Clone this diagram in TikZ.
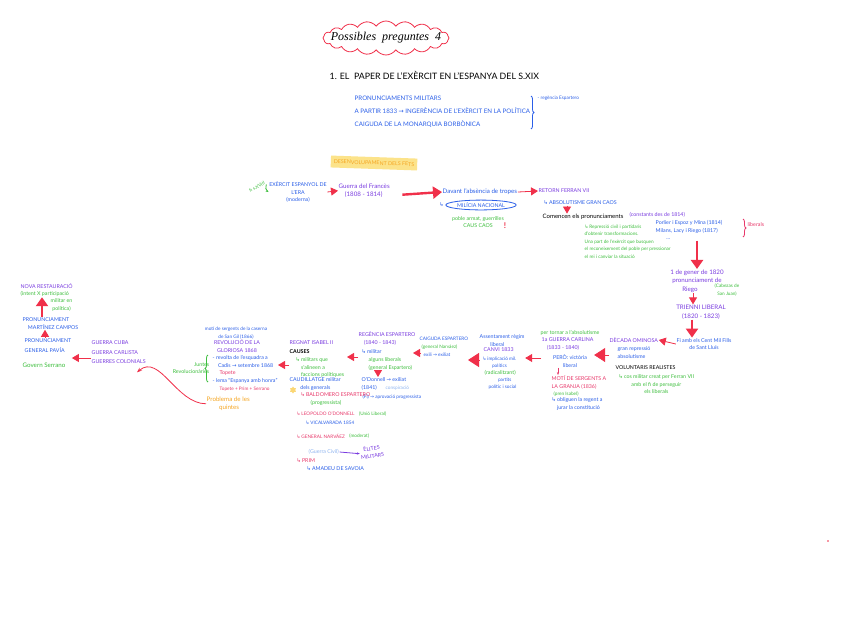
\documentclass[tikz,border=0pt]{standalone}
\usepackage{fontspec}
\setmainfont{Lato}
\newfontfamily\symfont{DejaVu Sans}
\newfontfamily\titlefont{Liberation Serif}
\usepackage{tikz}
\usetikzlibrary{calc,arrows.meta,decorations.pathreplacing,positioning,shapes.geometric,shapes.symbols}
\definecolor{NoteRed}{HTML}{F0304A}
\definecolor{NotePurple}{HTML}{7A3CE0}
\definecolor{NoteBlue}{HTML}{2B5FE8}
\definecolor{NoteGreen}{HTML}{3DBE3D}
\definecolor{NotePink}{HTML}{E8386A}
\definecolor{NoteOrange}{HTML}{F5A623}
\definecolor{NoteSky}{HTML}{8EB4F0}
\definecolor{NoteYellow}{HTML}{FCE38A}
\newcommand{\ret}{{\symfont ↳}\,}
\newcommand{\fl}{{\symfont →}}

\begin{document}
\begin{tikzpicture}[x=1pt,y=-1pt,
  every node/.style={inner sep=0.5pt, align=left, font=\fontsize{5.3}{7.5}\selectfont},
  pur/.style={text=NotePurple}, blu/.style={text=NoteBlue}, grn/.style={text=NoteGreen},
  pnk/.style={text=NotePink}, org/.style={text=NoteOrange}, sky/.style={text=NoteSky},
  big/.style={font=\fontsize{6.2}{8.5}\selectfont},
  sml/.style={font=\fontsize{4.7}{7.5}\selectfont},
  arr/.style={draw=NoteRed, line width=2.4pt, -{Triangle[length=9pt,width=12pt]}},
  tri/.style={draw=NoteRed, line width=0.8pt, -{Triangle[length=7pt,width=8pt]}},
  bigtri/.style={draw=NoteRed, line width=0.8pt, -{Triangle[length=11pt,width=14pt]}}]
  \useasboundingbox[fill=white] (0,0) rectangle (848,641);

  % titol
  \node[cloud, draw=NoteRed, thick, cloud puffs=20, cloud puff arc=110, aspect=4,
    minimum width=126pt, minimum height=34pt] (cloud) at (386,38) {};
  \node[font=\fontsize{12}{12}\titlefont\itshape] (title) at (cloud.center) {Possibles \ preguntes \ 4};
  \node[anchor=west, font=\fontsize{8.8}{10}\selectfont] (head) at (329,75)
    {1. EL \ PAPER DE L'EXÈRCIT EN L'ESPANYA DEL S.XIX};
  \node[blu, anchor=north west, font=\fontsize{6.2}{13}\selectfont] (intro) at (354,95)
    {PRONUNCIAMENTS MILITARS\\A PARTIR 1833 \fl\ INGERÈNCIA DE L'EXÈRCIT EN LA POLÍTICA\\CAIGUDA DE LA MONARQUIA BORBÒNICA};
  \draw[NoteBlue, thick, decorate, decoration={brace, amplitude=3pt}]
    (531,96) -- (531,129);
  \node[blu, sml, anchor=west] (regencia) at (537,98) {- regència Espartero};

  % desenvolupament
  \node[org, fill=NoteYellow, rotate=-2, inner xsep=3pt, inner ysep=4pt] (fets) at (374,163) {DESENVOLUPAMENT DELS FETS};
  \node[grn, sml, rotate=30] (segle) at (257,187) {fi s.XVIII};
  \node[blu, align=center] (exer) at (298,192) {EXÈRCIT ESPANYOL DE\\L'ERA\\(moderna)};
  \draw[NoteGreen, thick, -{Stealth[length=3pt]}] (segle.south east) to[bend right=40] (exer.west);
  \node[pur, big, anchor=north west] (frances) at (338,183) {Guerra del Francès\\\quad(1808 - 1814)};
  \draw[tri] (exer.east) -- (frances.west);
  \node[blu, big, anchor=west] (absencia) at (442,192) {Davant l'absència de tropes};
  \node[blu, draw=NoteBlue, thick, ellipse, inner sep=1pt] (milicia) at (481,205) {MILÍCIA NACIONAL};
  \node[blu, anchor=east] (ret1) at (milicia.west) {\ret};
  \node[grn, align=center] (poble) at (478,222) {poble armat, guerrilles\\CAUS CAOS};
  \node[text=NoteRed, font=\fontsize{8}{8}\bfseries] (excl) at (505,226) {!};
  \draw[arr] ($(frances.east)+(12,4)$) -- (absencia.west);
  \node[pur, anchor=west] (retorn) at (538,191) {RETORN FERRAN VII};
  \draw[tri] (absencia.east) -- (retorn.west);
  \node[blu, anchor=west] (absol) at (543,203) {\ret ABSOLUTISME GRAN CAOS};
  \node[anchor=west, font=\fontsize{6}{7}\selectfont] (comencen) at (542,217) {Comencen els pronunciaments};
  \draw[tri] (absol.south -| 567,0) -- (comencen.north -| 567,0);
  \node[pur, anchor=west] (constants) at (629,215) {(constants des de 1814)};
  \node[blu, anchor=north west] (noms) at (655,220) {Porlier i Espoz y Mina (1814)\\Milans, Lacy i Riego (1817)\\\qquad ...};
  \node[pnk, anchor=west] (liberals) at (747,225) {liberals};
  \draw[NotePink, thick, decorate, decoration={brace, amplitude=3pt}]
    ($(liberals.west)+(-4,-6)$) -- ($(liberals.west)+(-4,12)$);
  \node[grn, sml, anchor=north west] (repressio) at (584,224)
    {\ret Repressió civil i partidaris\\d'obtenir transformacions.\\Una part de l'exèrcit que busquen\\el reconeixement del poble per pressionar\\el rei i canviar la situació};

  % cap a 1820
  \node[pur, big, align=center] (gener) at (697,281) {1 de gener de 1820\\pronunciament de\\Riego \qquad\qquad};
  \node[grn, sml, align=center] (cabezas) at (727,290) {(Cabezas de\\San Juan)};
  \draw[arr] (noms.south -| gener.north) -- (gener.north);
  \node[pur, big, align=center] (trienni) at (701,312) {TRIENNI LIBERAL\\(1820 - 1823)};
  \draw[tri] (gener.south -| 693,0) -- (trienni.north -| 693,0);
  \node[blu, align=center] (fi) at (704,344) {Fi amb els Cent Mil Fills\\de Sant Lluís};
  \draw[arr] (trienni.south -| 692,0) -- (fi.north -| 692,0);

  % decada ominosa
  \node[pur, anchor=west] (decada) at (609,340) {DÈCADA OMINOSA};
  \draw[tri] (fi.west) -- (decada.east);
  \node[blu, anchor=north west] (repre) at (617,346) {gran repressió\\absolutisme};
  \node[anchor=west] (volunt) at (615,368) {VOLUNTARIS REALISTES};
  \node[grn, anchor=north west, align=center] (cos) at (618,374) {\ret cos militar creat per Ferran VII\\amb el fi de perseguir\\els liberals};

  % primera guerra carlina
  \node[grn, anchor=west] (tornar) at (540,333) {per tornar a l'absolutisme};
  \node[pur, anchor=north west] (carlina) at (541,337) {1a GUERRA CARLINA\\\quad(1833 - 1840)};
  \draw[bigtri] (decada.west |- 0,355) -- (carlina.east |- 0,355);
  \node[blu, align=center] (pero) at (570,361) {PERÒ: victòria\\liberal};
  \node[pnk, anchor=north west] (moti) at (551,375) {MOTÍ DE SERGENTS A\\LA GRANJA (1836)};
  \draw[NotePink, thick, -{Stealth[length=3pt]}] (pero.south -| 558,0) -- (moti.north -| 558,0);
  \node[grn, sml, anchor=west] (pren) at (553,394) {(pren Isabel)};
  \node[blu, anchor=north west] (obliguen) at (551,397) {\ret obliguen la regent a\\\quad jurar la constitució};

  % assentament
  \node[blu, anchor=north west] (assent) at (479,334) {Assentament règim\\\qquad liberal};
  \node[pur, anchor=west] (canvi) at (483,350) {CANVI 1833};
  \draw[tri] (carlina.west |- 0,358) -- (assent.east |- 0,358);
  \node[blu, sml, anchor=north west] (implic) at (482,356) {\ret implicació mil.\\\qquad polítics};
  \node[grn, anchor=west] (radical) at (484,373) {(radicalitzant)};
  \node[blu, sml, anchor=north west] (partits) at (488,377) {\qquad partits\\polític i social};
  \draw[bigtri] (assent.west |- 0,360) -- ++(-11,0);

  % caiguda
  \node[blu, sml, anchor=north west] (caiguda) at (419,336) {CAIGUDA ESPARTERO};
  \node[grn, sml, anchor=west] (narvaez) at (421,347) {(general Narváez)};
  \node[blu, sml, anchor=west] (exili) at (423,355) {exili \fl\ exiliat};

  % regencia espartero
  \node[pur, anchor=north west] (regesp) at (358,331) {REGÈNCIA ESPARTERO\\\quad(1840 - 1843)};
  \draw[tri] (narvaez.west |- 0,353) -- ++(-8,0);
  \node[blu, anchor=west] (militar) at (361,352) {\ret militar};
  \node[grn, anchor=north west] (alguns) at (368,357) {alguns liberals\\(general Espartero)};
  \node[blu, anchor=north west] (odonnell) at (361,377) {O'Donnell \fl\ exiliat\\(1841)};
  \node[sky, sml, anchor=west] (consp) at (385,388) {conspiració};
  \node[blu, sml, anchor=west] (aprov) at (362,397) {(Fi) \fl\ aprovació progressista};
  \draw[tri] (alguns.south -| 378,0) -- (odonnell.north -| 378,0);

  % regnat isabel ii
  \node[pur, anchor=west] (isabel) at (289,343) {REGNAT ISABEL II};
  \draw[tri] (regesp.west |- 0,357) -- ++(-11,0);
  \node[anchor=west, font=\fontsize{5.3}{7}\bfseries] (causes) at (289,352) {CAUSES};
  \node[grn, anchor=north west] (militars) at (295,357) {\ret militars que\\\quad s'alineen a\\\quad faccions polítiques};
  \node[blu, anchor=north west] (caud) at (289,377) {CAUDILLATGE militar\\\qquad dels generals};
  \node[star, star points=6, fill=NoteYellow!80!NoteOrange, inner sep=1.6pt] (estel) at (293,390) {};
  \node[pnk, anchor=west] (balde) at (300,395) {\ret BALDOMERO ESPARTERO};
  \node[grn, anchor=west] (progre) at (310,403) {(progressista)};
  \node[pnk, sml, anchor=west] (leo) at (296,414) {\ret LEOPOLDO O'DONNELL};
  \node[grn, sml, right=3pt of leo] (unio) {(Unió Liberal)};
  \node[blu, sml, anchor=west] (vical) at (305,423) {\ret VICALVARADA 1854};
  \node[pnk, sml, anchor=west] (narv) at (296,436) {\ret GENERAL NARVÁEZ};
  \node[grn, sml, right=3pt of narv] (moderat) {(moderat)};
  \node[sky, anchor=west] (guerra) at (308,452) {(Guerra Civil)};
  \node[pur, rotate=8, align=center] (elites) at (372,452) {ÈLITES\\MILITARS};
  \draw[NotePurple, thick, -{Stealth[length=3pt]}] (guerra.east) -- (elites.west);
  \node[pnk, anchor=west] (prim) at (296,461) {\ret PRIM};
  \node[blu, anchor=west] (amadeu) at (306,469) {\ret AMADEU DE SAVOIA};

  % la gloriosa
  \node[blu, sml, align=center] (sangil) at (236,333) {motí de sergents de la caserna\\de San Gil (1866)};
  \node[pur, align=center] (gloriosa) at (237,346) {REVOLUCIÓ DE LA\\GLORIOSA 1868};
  \node[blu, anchor=north west] (revolta) at (212,355) {- revolta de l'esquadra a\\\quad Cadis \fl\ setembre 1868};
  \node[pnk, anchor=west] (topete) at (219,373) {Topete};
  \node[blu, anchor=west] (lema) at (212,381) {- lema ``Espanya amb honra''};
  \node[pnk, sml, anchor=west] (tps) at (219,389) {Topete + Prim + Serrano};
  \draw[tri] (isabel.west |- 0,365) -- ++(-11,0);
  \node[grn, align=right] (juntes) at (191,368) {Juntes\\Revolucionàries};
  \draw[NoteGreen, thick, decorate, decoration={brace, amplitude=3pt, mirror}]
    (208,355) -- (208,382);
  \node[org, big, anchor=north west] (quintes) at (206,396) {Problema de les\\\qquad quintes};

  % restauracio
  \node[pur, anchor=north west, font=\fontsize{5.3}{9.5}\selectfont] (guerres) at (91,340)
    {GUERRA CUBA\\GUERRA CARLISTA\\GUERRES COLONIALS};
  \draw[NoteRed, thick, -{Stealth[length=5pt]}] (quintes.west) to[out=180, in=40] ($(guerres.south -| 137,0)+(0,8)$);
  \node[blu, anchor=north west, font=\fontsize{5.3}{10}\selectfont] (pavia) at (24,338) {PRONUNCIAMENT\\GENERAL PAVÍA};
  \draw[tri] (guerres.west |- 0,358) -- (pavia.east |- 0,358);
  \node[grn, big, anchor=west] (serrano) at (22,365) {Govern Serrano};
  \node[blu, anchor=north west] (campos) at (22,317) {PRONUNCIAMENT\\\quad MARTÍNEZ CAMPOS};
  \draw[tri] (pavia.north -| 45,0) -- (campos.south -| 45,0);
  \node[pur, anchor=west] (rest) at (20,286) {NOVA RESTAURACIÓ};
  \node[grn, anchor=west] (intent) at (20,294) {(intent X participació};
  \node[grn, anchor=north west, align=center] (intent2) at (50,298) {militar en\\política)};
  \draw[arr] (campos.north -| 42,0) -- (intent.south -| 42,0);

  \fill[NoteRed] (828,541) circle (0.8);
\end{tikzpicture}
\end{document}
